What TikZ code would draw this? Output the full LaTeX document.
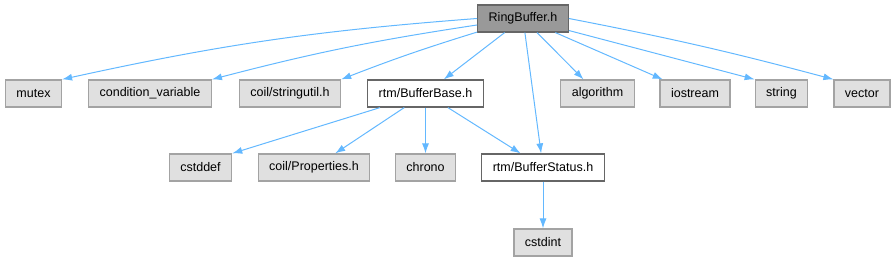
\documentclass[tikz,border=0pt]{standalone}
\usepackage{fontspec}
\setmainfont{Liberation Sans}
\usepackage{xcolor}
\usetikzlibrary{arrows.meta, positioning}
\definecolor{edgeblue}{RGB}{99, 184, 255}
\definecolor{boxgray}{RGB}{224, 224, 224}
\definecolor{rootgray}{RGB}{153, 153, 153}

\begin{document}
\begin{tikzpicture}[x=1pt, y=1pt,
				sys/.style={draw=rootgray!90!white, line width=1.2pt, fill=boxgray, minimum height=27pt, inner xsep=11pt, font=\fontsize{12.5}{15}\selectfont},
				local/.style={sys, draw=black!60, fill=white},
				root/.style={sys, draw=black!60, fill=rootgray},
				arrow/.style={-{Latex[length=10pt, width=7pt]}, edgeblue, line width=1pt}
			]
			\useasboundingbox (0,0) rectangle (896,261);

			% Nodes
			\node[root] (ring) at (523,242.5) {RingBuffer.h};

			\node[sys] (mutex) at (33.5,167.5) {mutex};
			\node[sys] (condvar) at (150,167.5) {condition\_variable};
			\node[sys] (stringutil) at (290,167.5) {coil/stringutil.h};
			\node[local] (bufbase) at (425.5,167.5) {rtm/BufferBase.h};
			\node[sys] (algorithm) at (597.5,167.5) {algorithm};
			\node[sys] (iostream) at (695,167.5) {iostream};
			\node[sys] (string) at (781.5,167.5) {string};
			\node[sys] (vector) at (862,167.5) {vector};

			\node[sys] (cstddef) at (200.5,93.5) {cstddef};
			\node[sys] (properties) at (314,93.5) {coil/Properties.h};
			\node[sys] (chrono) at (425.5,93.5) {chrono};
			\node[local] (bufstatus) at (543,93.5) {rtm/BufferStatus.h};

			\node[sys] (cstdint) at (543,18.5) {cstdint};

			% Arrows
			\draw[arrow] (ring.west) to[bend right=4] (mutex.north east);
			\draw[arrow] (ring) to[bend right=3] (condvar.north east);
			\draw[arrow] (ring) to[bend right=2] (stringutil.north east);
			\draw[arrow] (ring) -- (bufbase);
			\draw[arrow] (ring) -- (bufstatus);
			\draw[arrow] (ring) -- (algorithm);
			\draw[arrow] (ring) -- (iostream);
			\draw[arrow] (ring) -- (string.north west);
			\draw[arrow] (ring.east) to[bend left=2] (vector.north west);

			\draw[arrow] (bufbase) -- (cstddef.north east);
			\draw[arrow] (bufbase) -- (properties);
			\draw[arrow] (bufbase) -- (chrono);
			\draw[arrow] (bufbase) -- (bufstatus);

			\draw[arrow] (bufstatus) -- (cstdint);

		\end{tikzpicture}
\end{document}
